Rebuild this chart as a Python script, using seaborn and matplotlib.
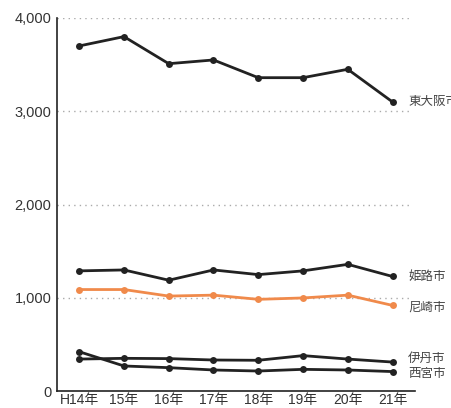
import numpy as np
import pandas as pd
import matplotlib
matplotlib.use('Agg')
import matplotlib.pyplot as plt
from matplotlib.ticker import FixedLocator, NullFormatter
import seaborn as sns

# data
years = ['H14年', '15年', '16年', '17年', '18年', '19年', '20年', '21年']
higashiosaka = [3700, 3800, 3510, 3550, 3360, 3360, 3450, 3100]
himeji = [1290, 1300, 1190, 1300, 1250, 1290, 1360, 1230]
amagasaki = [1090, 1090, 1020, 1030, 985, 1000, 1030, 920]
itami = [345, 353, 350, 335, 332, 382, 345, 313]
nishinomiya = [424, 271, 253, 228, 217, 235, 228, 211]
cities = ['東大阪市', '姫路市', '尼崎市', '伊丹市', '西宮市']
y_ticks = [0, 1000, 2000, 3000, 4000]

series = [higashiosaka, himeji, amagasaki, itami, nishinomiya]
rows = []
for city, vals in zip(cities, series):
    for i, v in enumerate(vals):
        rows.append({'city': city, 'x': i, 'value': v})
df = pd.DataFrame(rows)

sns.set_style('white')
plt.rcParams['font.family'] = ['Liberation Sans', 'Noto Sans CJK JP', 'DejaVu Sans']

palette = {'東大阪市': '#222222', '姫路市': '#222222', '尼崎市': '#f08a4b',
           '伊丹市': '#222222', '西宮市': '#222222'}

fig = plt.figure(figsize=(4.51, 4.08), dpi=100)
ax = fig.add_axes([0.126, 0.041, 0.794, 0.915])

sns.lineplot(data=df, x='x', y='value', hue='city', palette=palette,
             marker='o', markersize=5, markeredgewidth=0, linewidth=2,
             legend=False, ax=ax)

ax.set_xlim(-0.5, 7.5)
ax.set_ylim(0, 4000)

# dotted grid lines
for t in y_ticks[1:]:
    ax.plot([-0.5, 7.4], [t, t], color='#aaaaaa', linestyle=(0, (1, 3)),
            linewidth=1, zorder=0)

ax.set_yticks(y_ticks)
ax.set_yticklabels(['0', '1,000', '2,000', '3,000', '4,000'])
ax.xaxis.set_major_locator(FixedLocator(np.arange(-0.5, 8, 1)))
ax.xaxis.set_major_formatter(NullFormatter())
ax.xaxis.set_minor_locator(FixedLocator(np.arange(len(years))))
ax.set_xticklabels(years, minor=True)
ax.tick_params(axis='x', which='major', direction='in', length=7, width=1, color='#222222')
ax.tick_params(axis='x', which='minor', length=0, pad=1.5, labelsize=10, labelcolor='#333333')
ax.tick_params(axis='y', direction='in', length=6, width=1, color='#222222',
               pad=4, labelsize=10.5, labelcolor='#333333')
ax.set_xlabel('')
ax.set_ylabel('')

for side in ['top', 'right']:
    ax.spines[side].set_visible(False)
for side in ['left', 'bottom']:
    ax.spines[side].set_color('#222222')
    ax.spines[side].set_linewidth(1.2)

# end labels
label_y = {'東大阪市': 3100, '姫路市': 1230, '尼崎市': 900, '伊丹市': 350, '西宮市': 190}
for city in cities:
    ax.text(7.35, label_y[city], city, fontsize=9, color='#444444',
            va='center', ha='left', family=['Noto Sans CJK JP', 'DejaVu Sans'],
            clip_on=False)

fig.savefig('out.png', dpi=100)
